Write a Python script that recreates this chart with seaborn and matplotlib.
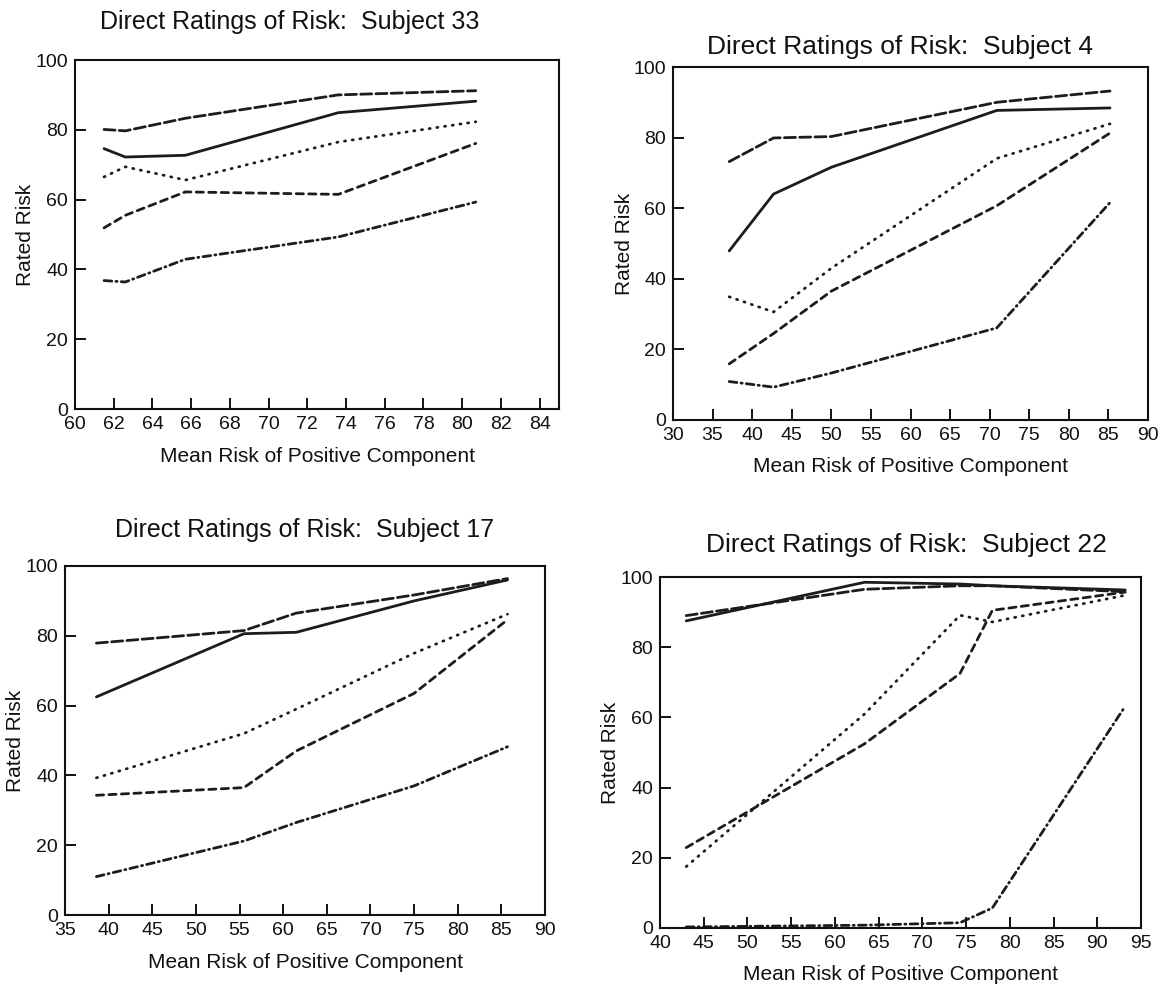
import matplotlib
matplotlib.use("Agg")
import matplotlib.pyplot as plt
import seaborn as sns
import pandas as pd

# ---------------- data ----------------
series_names = ["long dash", "solid", "dotted", "medium dash", "dash-dot"]

# Subject 33
s33_x = [61.5, 62.6, 65.7, 73.6, 80.7]
s33_long = [80.1, 79.7, 83.3, 90.0, 91.2]
s33_solid = [74.6, 72.2, 72.7, 84.9, 88.2]
s33_dot = [66.5, 69.4, 65.6, 76.5, 82.3]
s33_med = [51.9, 55.5, 62.2, 61.5, 76.1]
s33_dashdot = [36.8, 36.4, 42.9, 49.3, 59.3]

# Subject 4
s4_x = [37.1, 42.7, 50.0, 70.9, 85.2]
s4_long = [73.2, 79.9, 80.3, 90.0, 93.2]
s4_solid = [47.9, 64.0, 71.6, 87.7, 88.4]
s4_dot = [34.9, 30.6, 43.0, 74.1, 83.9]
s4_med = [15.9, 24.5, 36.5, 60.7, 81.3]
s4_dashdot = [10.9, 9.3, 13.3, 26.1, 61.6]

# Subject 17
s17_x = [38.6, 55.5, 61.5, 75.0, 85.7]
s17_long = [77.9, 81.5, 86.5, 91.7, 96.4]
s17_solid = [62.5, 80.6, 81.0, 90.0, 96.0]
s17_dot = [39.3, 52.0, 59.0, 75.0, 86.2]
s17_med = [34.3, 36.5, 47.0, 63.5, 84.6]
s17_dashdot = [11.0, 21.2, 26.5, 37.0, 48.2]

# Subject 22
s22_x = [43.0, 63.4, 74.3, 78.0, 93.2]
s22_long = [89.0, 96.5, 97.5, 97.5, 95.8]
s22_solid = [87.5, 98.5, 98.0, 97.5, 96.3]
s22_dot = [17.5, 61.0, 89.1, 87.2, 94.8]
s22_med = [22.9, 52.5, 72.5, 90.5, 95.7]
s22_dashdot = [0.3, 0.8, 1.5, 5.7, 63.2]

titles = ["Direct Ratings of Risk:  Subject 33", "Direct Ratings of Risk:  Subject 4",
          "Direct Ratings of Risk:  Subject 17", "Direct Ratings of Risk:  Subject 22"]
x_label = "Mean Risk of Positive Component"
y_label = "Rated Risk"
xticks_list = [list(range(60, 85, 2)), list(range(30, 91, 5)),
               list(range(35, 91, 5)), list(range(40, 96, 5))]
xlims = [(60, 85), (30, 90), (35, 90), (40, 95)]
yticks = [0, 20, 40, 60, 80, 100]

panels = [
    (s33_x, [s33_long, s33_solid, s33_dot, s33_med, s33_dashdot]),
    (s4_x, [s4_long, s4_solid, s4_dot, s4_med, s4_dashdot]),
    (s17_x, [s17_long, s17_solid, s17_dot, s17_med, s17_dashdot]),
    (s22_x, [s22_long, s22_solid, s22_dot, s22_med, s22_dashdot]),
]

# ---------------- style ----------------
sns.set_style("ticks")
plt.rcParams["font.family"] = ["Liberation Sans", "DejaVu Sans"]
plt.rcParams["lines.solid_capstyle"] = "round"
plt.rcParams["lines.dash_capstyle"] = "round"

dash_map = {
    "long dash": (4.0, 1.5),
    "solid": "",
    "dotted": (0.4, 2.4),
    "medium dash": (2.6, 1.9),
    "dash-dot": (2.8, 1.5, 0.4, 1.5),
}

W, H = 1165, 991
fig = plt.figure(figsize=(W / 100, H / 100), dpi=100)
fig.patch.set_facecolor("white")

# axes boxes in pixels: left, right, top, bottom
boxes = [(75, 559, 60, 409), (673, 1148, 67, 420), (65, 545, 566, 915), (660, 1141, 577, 928)]
title_pos = [(290, 22), (900, 47), (305, 530), (906, 545)]
title_size = [18, 19, 18, 19]

for i, ((xs, ys_list), (l, r, t, b)) in enumerate(zip(panels, boxes)):
    ax = fig.add_axes([l / W, 1 - b / H, (r - l) / W, (b - t) / H])
    rows = []
    for name, ys in zip(series_names, ys_list):
        for xv, yv in zip(xs, ys):
            rows.append({"x": xv, "y": yv, "series": name})
    df = pd.DataFrame(rows)
    sns.lineplot(data=df, x="x", y="y", style="series", style_order=series_names,
                 dashes=dash_map, color="#1c1c1c", linewidth=2.0, legend=False,
                 ax=ax, estimator=None, sort=False)
    ax.set_xlim(*xlims[i])
    ax.set_ylim(0, 100)
    ax.set_xticks(xticks_list[i])
    ax.set_yticks(yticks)
    ax.tick_params(direction="in", length=8, width=1.4, labelsize=14, pad=5, colors="#111111")
    for sp in ax.spines.values():
        sp.set_linewidth(1.5)
        sp.set_color("#111111")
    ax.set_xlabel(x_label, fontsize=15, va="center", color="#111111")
    ax.xaxis.set_label_coords(0.5, -47 / (b - t))
    ax.set_ylabel(y_label, fontsize=15, va="center", color="#111111")
    ax.yaxis.set_label_coords(-49 / (r - l), 0.5)
    fig.text(title_pos[i][0] / W, 1 - title_pos[i][1] / H, titles[i], fontsize=title_size[i],
             ha="center", va="center", color="#111111")

fig.savefig("out.png", dpi=100, facecolor="white")
